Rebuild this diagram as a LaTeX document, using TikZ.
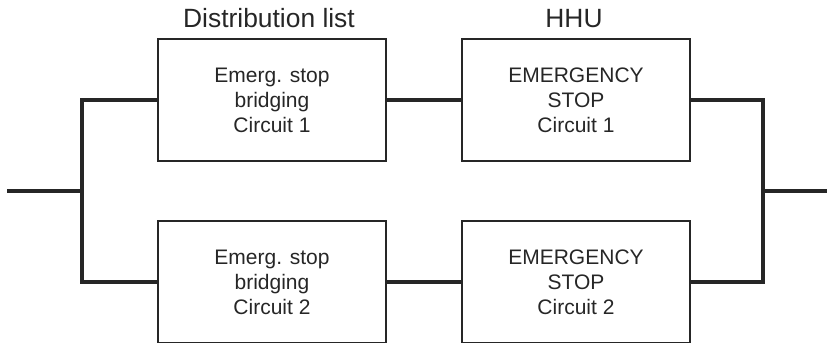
\documentclass[tikz,border=0pt]{standalone}
\usepackage{fontspec}
\setmainfont{Liberation Sans}
\usetikzlibrary{positioning}

\begin{document}
\begin{tikzpicture}[x=0.5pt,y=0.5pt]
  \tikzset{
    unit/.style={draw=black!85, line width=1pt, text=black!85, minimum width=114pt, minimum height=61pt, inner sep=0pt, align=center, font=\fontsize{10.5}{12.5}\selectfont},
    title/.style={text=black!85, anchor=base, font=\fontsize{13.2}{15}\selectfont},
    wire/.style={draw=black!85, line width=1.6pt}
  }
  \useasboundingbox (0,0) rectangle (827,343);

  % Distribution list and HHU boxes
  \node[unit] (dist1) at (272,243) {Emerg. stop\\bridging\\Circuit 1};
  \node[unit, right=37pt of dist1] (hhu1) {EMERGENCY\\STOP\\Circuit 1};
  \node[unit, below=29pt of dist1] (dist2) {Emerg. stop\\bridging\\Circuit 2};
  \node[unit, right=37pt of dist2] (hhu2) {EMERGENCY\\STOP\\Circuit 2};

  % Column titles
  \node[title] (distlabel) at (269,315) {Distribution list};
  \node[title] (hhulabel) at (574,315) {HHU};

  % Branch points and free ends
  \coordinate (in) at (7,152);
  \coordinate (splitL) at (82,152);
  \coordinate (splitR) at (763,152);
  \coordinate (out) at (827,152);

  % Wiring
  \draw[wire] (in) -- (splitL);
  \draw[wire] (dist1.west) -| (splitL) |- (dist2.west);
  \draw[wire] (dist1.east) -- (hhu1.west);
  \draw[wire] (dist2.east) -- (hhu2.west);
  \draw[wire] (hhu1.east) -| (splitR) |- (hhu2.east);
  \draw[wire] (splitR) -- (out);
\end{tikzpicture}
\end{document}
